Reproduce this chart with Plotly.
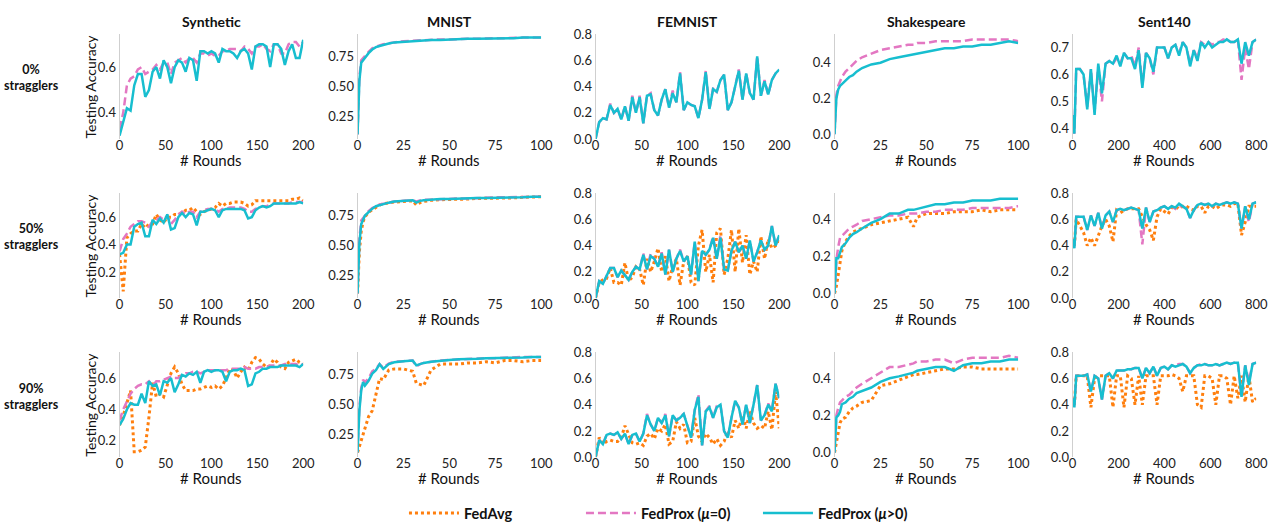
import plotly.graph_objects as go

W, H = 1286, 529
FONT = "Lato"
C_AVG, C_P0, C_P = "#ff7f0e", "#e377c2", "#17becf"

# ---------------- x grids (rounds) ----------------
R200 = list(range(0, 201, 4))
RMN = [0, 1, 2, 3, 4, 6, 8, 10, 12, 14, 17, 20, 25, 30, 32, 34, 36, 40, 45, 50,
       55, 60, 65, 70, 75, 80, 85, 90, 95, 100]
RSH = [0, 1, 2, 3, 4, 6, 8, 10, 12, 15, 20, 25, 30, 35, 40, 43, 45, 50, 55, 60,
       65, 70, 75, 80, 85, 90, 95, 100]
RSE = [0, 8] + list(range(16, 801, 16))

# ---------------- Synthetic ----------------
SYN0_PROX0 = [0.33,0.40,0.52,0.55,0.56,0.59,0.60,0.57,0.58,0.59,
              0.61,0.59,0.62,0.62,0.57,0.62,0.63,0.64,0.62,0.64,
              0.64,0.62,0.66,0.66,0.65,0.66,0.65,0.65,0.67,0.67,
              0.68,0.68,0.68,0.67,0.69,0.68,0.66,0.69,0.69,0.70,
              0.68,0.67,0.70,0.70,0.66,0.66,0.70,0.71,0.71,0.69,
              0.71]
SYN0_PROX = [0.30,0.36,0.42,0.41,0.52,0.57,0.57,0.47,0.50,0.58,
             0.60,0.55,0.63,0.60,0.53,0.60,0.63,0.62,0.58,0.64,
             0.63,0.54,0.67,0.67,0.66,0.67,0.66,0.62,0.68,0.67,
             0.67,0.66,0.64,0.67,0.68,0.66,0.59,0.69,0.70,0.70,
             0.69,0.60,0.70,0.70,0.68,0.61,0.67,0.70,0.64,0.64,
             0.72]
SYN50_AVG = [0.33,0.06,0.45,0.48,0.50,0.50,0.55,0.52,0.55,0.55,
             0.62,0.58,0.56,0.60,0.60,0.62,0.62,0.63,0.65,0.65,
             0.67,0.64,0.62,0.64,0.65,0.66,0.67,0.70,0.68,0.70,
             0.70,0.71,0.71,0.71,0.70,0.68,0.69,0.72,0.72,0.72,
             0.72,0.72,0.72,0.72,0.72,0.72,0.72,0.73,0.73,0.74,
             0.72]
SYN50_PROX0 = [0.35,0.44,0.48,0.53,0.55,0.57,0.57,0.56,0.53,0.57,
               0.58,0.60,0.58,0.61,0.55,0.58,0.62,0.64,0.62,0.64,
               0.64,0.60,0.64,0.65,0.66,0.66,0.66,0.64,0.66,0.66,
               0.67,0.67,0.67,0.67,0.66,0.64,0.64,0.66,0.67,0.68,
               0.68,0.69,0.70,0.70,0.70,0.70,0.70,0.71,0.71,0.71,
               0.71]
SYN50_PROX = [0.33,0.34,0.40,0.40,0.53,0.55,0.56,0.46,0.46,0.58,
              0.55,0.59,0.56,0.62,0.51,0.52,0.60,0.63,0.60,0.63,
              0.62,0.54,0.64,0.64,0.65,0.66,0.65,0.60,0.65,0.66,
              0.66,0.66,0.66,0.66,0.65,0.59,0.60,0.65,0.67,0.68,
              0.67,0.68,0.70,0.70,0.70,0.70,0.70,0.70,0.70,0.71,
              0.70]
SYN90_AVG = [0.30,0.36,0.44,0.52,0.13,0.13,0.14,0.16,0.35,0.57,
             0.48,0.50,0.48,0.55,0.63,0.67,0.63,0.56,0.52,0.52,
             0.52,0.53,0.53,0.54,0.55,0.54,0.55,0.53,0.55,0.60,
             0.66,0.65,0.60,0.64,0.67,0.65,0.70,0.73,0.72,0.69,
             0.67,0.68,0.72,0.70,0.67,0.66,0.70,0.71,0.72,0.70,
             0.69]
SYN90_PROX0 = [0.33,0.40,0.45,0.50,0.53,0.55,0.56,0.56,0.58,0.55,
               0.58,0.58,0.59,0.60,0.61,0.60,0.60,0.62,0.63,0.63,
               0.64,0.64,0.63,0.64,0.65,0.65,0.65,0.65,0.65,0.65,
               0.66,0.66,0.66,0.66,0.67,0.66,0.66,0.66,0.67,0.67,
               0.67,0.68,0.68,0.68,0.68,0.69,0.69,0.69,0.69,0.68,
               0.69]
SYN90_PROX = [0.30,0.34,0.40,0.44,0.43,0.43,0.50,0.44,0.58,0.55,
              0.56,0.49,0.58,0.57,0.60,0.51,0.56,0.62,0.61,0.63,
              0.62,0.64,0.57,0.64,0.65,0.64,0.65,0.65,0.64,0.58,
              0.64,0.65,0.65,0.66,0.65,0.55,0.56,0.63,0.64,0.66,
              0.66,0.67,0.67,0.67,0.68,0.68,0.68,0.68,0.68,0.67,
              0.69]

# ---------------- MNIST ----------------
MN0_PROX0 = [0.10,0.58,0.72,0.74,0.76,0.79,0.82,0.835,0.845,0.855,
             0.865,0.87,0.88,0.885,0.885,0.89,0.89,0.89,0.895,0.895,
             0.90,0.90,0.90,0.905,0.905,0.905,0.91,0.91,0.91,0.91]
MN0_PROX = [0.10,0.55,0.70,0.72,0.75,0.78,0.81,0.83,0.84,0.85,
            0.86,0.87,0.875,0.88,0.885,0.885,0.885,0.89,0.89,0.895,
            0.895,0.90,0.90,0.90,0.905,0.905,0.905,0.91,0.91,0.91]
MN50_AVG = [0.10,0.45,0.62,0.70,0.74,0.78,0.80,0.82,0.84,0.85,
            0.86,0.865,0.87,0.875,0.84,0.86,0.87,0.88,0.885,0.885,
            0.89,0.89,0.895,0.895,0.90,0.90,0.90,0.905,0.905,0.91]
MN50_PROX0 = [0.10,0.56,0.71,0.73,0.76,0.79,0.815,0.83,0.845,0.85,
              0.86,0.87,0.875,0.88,0.87,0.88,0.885,0.885,0.89,0.89,
              0.895,0.895,0.90,0.90,0.905,0.905,0.905,0.91,0.91,0.91]
MN50_PROX = [0.10,0.52,0.68,0.72,0.75,0.78,0.81,0.83,0.84,0.85,
             0.86,0.87,0.875,0.88,0.86,0.875,0.88,0.885,0.89,0.89,
             0.895,0.895,0.90,0.90,0.90,0.905,0.905,0.905,0.91,0.91]
MN90_AVG = [0.10,0.15,0.20,0.25,0.28,0.40,0.45,0.58,0.72,0.71,
            0.79,0.80,0.80,0.78,0.68,0.67,0.66,0.79,0.84,0.84,
            0.84,0.85,0.85,0.86,0.85,0.87,0.87,0.86,0.87,0.87]
MN90_PROX0 = [0.10,0.48,0.64,0.71,0.69,0.72,0.78,0.80,0.84,0.81,
              0.845,0.86,0.865,0.87,0.82,0.84,0.85,0.86,0.87,0.875,
              0.88,0.885,0.885,0.89,0.89,0.895,0.895,0.90,0.90,0.90]
MN90_PROX = [0.10,0.45,0.62,0.69,0.66,0.70,0.76,0.79,0.84,0.80,
             0.84,0.855,0.865,0.87,0.83,0.84,0.85,0.86,0.87,0.875,
             0.88,0.88,0.885,0.89,0.89,0.89,0.895,0.895,0.90,0.90]

# ---------------- FEMNIST ----------------
FE0_PROX0 = [0.00,0.13,0.16,0.15,0.27,0.20,0.23,0.15,0.25,0.14,
             0.33,0.20,0.33,0.12,0.33,0.35,0.22,0.18,0.30,0.38,
             0.24,0.37,0.28,0.51,0.22,0.28,0.26,0.25,0.16,0.30,
             0.52,0.23,0.39,0.36,0.45,0.49,0.22,0.28,0.40,0.53,
             0.30,0.50,0.35,0.30,0.63,0.33,0.45,0.34,0.45,0.50,
             0.53]
FE0_PROX = [0.00,0.13,0.16,0.15,0.26,0.20,0.23,0.15,0.25,0.14,
            0.32,0.20,0.32,0.12,0.33,0.34,0.22,0.18,0.30,0.38,
            0.24,0.35,0.28,0.50,0.22,0.28,0.26,0.25,0.16,0.30,
            0.51,0.23,0.38,0.36,0.45,0.49,0.22,0.28,0.40,0.52,
            0.30,0.50,0.35,0.30,0.63,0.33,0.44,0.34,0.45,0.50,
            0.53]
FE50_AVG = [0.00,0.12,0.14,0.15,0.23,0.12,0.12,0.10,0.27,0.13,
            0.16,0.24,0.22,0.10,0.30,0.20,0.28,0.38,0.20,0.32,
            0.13,0.24,0.30,0.10,0.28,0.32,0.12,0.10,0.40,0.52,
            0.20,0.33,0.12,0.50,0.53,0.18,0.30,0.52,0.20,0.53,
            0.27,0.48,0.18,0.28,0.20,0.47,0.30,0.45,0.38,0.40,
            0.45]
FE50_PROX0 = [0.00,0.13,0.11,0.17,0.23,0.23,0.16,0.21,0.17,0.14,
              0.20,0.24,0.22,0.34,0.22,0.34,0.30,0.24,0.35,0.18,
              0.37,0.20,0.30,0.37,0.28,0.32,0.18,0.43,0.13,0.36,
              0.33,0.37,0.47,0.30,0.48,0.22,0.21,0.36,0.43,0.35,
              0.40,0.30,0.44,0.28,0.35,0.44,0.37,0.40,0.55,0.40,
              0.48]
FE50_PROX = [0.00,0.13,0.11,0.17,0.23,0.23,0.16,0.21,0.17,0.14,
             0.20,0.24,0.22,0.33,0.22,0.32,0.30,0.24,0.34,0.18,
             0.37,0.20,0.30,0.36,0.28,0.32,0.18,0.43,0.13,0.36,
             0.33,0.37,0.46,0.30,0.46,0.22,0.21,0.36,0.43,0.35,
             0.40,0.30,0.44,0.28,0.35,0.44,0.37,0.40,0.55,0.40,
             0.48]
FE90_AVG = [0.00,0.15,0.10,0.12,0.13,0.12,0.12,0.15,0.24,0.18,
            0.11,0.10,0.11,0.09,0.16,0.18,0.14,0.22,0.20,0.25,
            0.10,0.12,0.27,0.22,0.25,0.11,0.12,0.30,0.16,0.12,
            0.18,0.15,0.10,0.14,0.09,0.12,0.20,0.15,0.28,0.22,
            0.32,0.22,0.35,0.26,0.22,0.24,0.22,0.35,0.21,0.50,
            0.22]
FE90_PROX0 = [0.00,0.13,0.10,0.17,0.18,0.17,0.19,0.14,0.18,0.10,
              0.17,0.18,0.12,0.18,0.33,0.25,0.20,0.30,0.26,0.33,
              0.16,0.32,0.28,0.31,0.33,0.24,0.15,0.36,0.48,0.09,
              0.35,0.39,0.30,0.39,0.40,0.20,0.15,0.30,0.43,0.38,
              0.25,0.40,0.26,0.40,0.55,0.28,0.32,0.41,0.35,0.56,
              0.45]
FE90_PROX = [0.00,0.13,0.10,0.17,0.18,0.17,0.19,0.14,0.18,0.10,
             0.17,0.18,0.12,0.18,0.32,0.25,0.20,0.30,0.26,0.32,
             0.16,0.32,0.28,0.30,0.33,0.24,0.15,0.36,0.46,0.09,
             0.35,0.38,0.30,0.38,0.40,0.20,0.15,0.30,0.43,0.38,
             0.25,0.40,0.26,0.40,0.55,0.28,0.32,0.40,0.35,0.56,
             0.45]

# ---------------- Shakespeare ----------------
SH0_PROX0 = [0.00,0.22,0.27,0.30,0.32,0.35,0.37,0.39,0.41,0.43,
             0.45,0.47,0.48,0.49,0.50,0.50,0.51,0.51,0.52,0.52,
             0.52,0.52,0.53,0.53,0.53,0.53,0.53,0.52]
SH0_PROX = [0.00,0.20,0.25,0.27,0.28,0.30,0.32,0.33,0.35,0.37,
            0.39,0.40,0.42,0.43,0.44,0.45,0.45,0.46,0.47,0.48,
            0.48,0.49,0.49,0.50,0.50,0.51,0.52,0.51]
SH50_AVG = [0.00,0.04,0.10,0.18,0.23,0.28,0.31,0.33,0.34,0.35,
            0.37,0.38,0.39,0.40,0.41,0.36,0.41,0.43,0.43,0.43,
            0.44,0.44,0.44,0.45,0.44,0.45,0.45,0.45]
SH50_PROX0 = [0.00,0.18,0.25,0.30,0.31,0.33,0.35,0.36,0.37,0.39,
              0.40,0.41,0.42,0.42,0.43,0.43,0.43,0.44,0.44,0.45,
              0.45,0.45,0.46,0.46,0.46,0.46,0.46,0.47]
SH50_PROX = [0.00,0.19,0.19,0.22,0.25,0.27,0.30,0.32,0.33,0.35,
             0.38,0.40,0.43,0.43,0.45,0.45,0.455,0.47,0.48,0.48,
             0.49,0.49,0.50,0.50,0.50,0.51,0.51,0.51]
SH90_AVG = [0.00,0.05,0.12,0.16,0.18,0.19,0.22,0.24,0.25,0.27,
            0.28,0.36,0.37,0.39,0.41,0.42,0.42,0.43,0.44,0.45,
            0.45,0.46,0.46,0.45,0.45,0.45,0.45,0.45]
SH90_PROX0 = [0.00,0.20,0.24,0.27,0.28,0.30,0.31,0.33,0.35,0.37,
              0.40,0.43,0.46,0.46,0.47,0.48,0.49,0.49,0.50,0.50,
              0.48,0.50,0.51,0.51,0.51,0.51,0.52,0.51]
SH90_PROX = [0.00,0.19,0.20,0.22,0.26,0.27,0.29,0.30,0.32,0.33,
             0.35,0.38,0.40,0.41,0.42,0.43,0.44,0.45,0.46,0.46,
             0.44,0.47,0.48,0.48,0.49,0.49,0.50,0.50]

# ---------------- Sent140 ----------------
SE0_PROX0 = [0.45,0.38,0.62,0.62,0.60,0.48,0.62,0.46,0.63,0.50,
             0.64,0.65,0.64,0.66,0.64,0.68,0.66,0.67,0.63,0.70,
             0.56,0.68,0.66,0.60,0.70,0.70,0.70,0.66,0.70,0.71,
             0.68,0.72,0.70,0.64,0.69,0.66,0.72,0.71,0.72,0.71,
             0.72,0.72,0.73,0.73,0.72,0.72,0.73,0.58,0.70,0.62,
             0.72,0.73]
SE0_PROX = [0.45,0.38,0.62,0.62,0.60,0.47,0.62,0.45,0.64,0.53,
            0.64,0.65,0.64,0.67,0.63,0.68,0.66,0.66,0.62,0.69,
            0.55,0.68,0.66,0.61,0.70,0.70,0.70,0.66,0.70,0.71,
            0.67,0.72,0.70,0.63,0.69,0.65,0.72,0.70,0.72,0.70,
            0.71,0.72,0.72,0.73,0.72,0.72,0.73,0.64,0.72,0.67,
            0.72,0.73]
SE50_AVG = [0.45,0.40,0.60,0.55,0.50,0.40,0.46,0.40,0.48,0.55,
            0.60,0.55,0.43,0.67,0.65,0.67,0.68,0.68,0.68,0.68,
            0.62,0.56,0.52,0.44,0.62,0.68,0.66,0.64,0.69,0.70,
            0.68,0.70,0.70,0.68,0.67,0.70,0.70,0.65,0.70,0.70,
            0.68,0.70,0.71,0.71,0.70,0.72,0.72,0.48,0.58,0.70,
            0.70,0.70]
SE50_PROX0 = [0.45,0.38,0.62,0.62,0.62,0.52,0.63,0.55,0.65,0.53,
              0.63,0.66,0.58,0.67,0.68,0.67,0.68,0.69,0.68,0.67,
              0.41,0.69,0.58,0.66,0.67,0.69,0.70,0.68,0.70,0.68,
              0.70,0.70,0.68,0.61,0.67,0.71,0.72,0.71,0.72,0.70,
              0.72,0.71,0.72,0.73,0.72,0.73,0.72,0.53,0.70,0.58,
              0.72,0.73]
SE50_PROX = [0.45,0.38,0.62,0.62,0.62,0.52,0.63,0.55,0.65,0.53,
             0.63,0.66,0.58,0.67,0.68,0.67,0.68,0.69,0.68,0.67,
             0.53,0.69,0.58,0.66,0.67,0.69,0.70,0.68,0.70,0.69,
             0.72,0.70,0.68,0.61,0.67,0.71,0.72,0.71,0.72,0.70,
             0.72,0.71,0.72,0.73,0.72,0.73,0.72,0.53,0.70,0.60,
             0.72,0.73]
SE90_AVG = [0.45,0.40,0.62,0.62,0.62,0.62,0.38,0.60,0.62,0.62,
            0.62,0.62,0.38,0.62,0.62,0.38,0.62,0.60,0.40,0.62,
            0.40,0.62,0.62,0.62,0.40,0.62,0.62,0.62,0.63,0.62,
            0.60,0.50,0.62,0.62,0.62,0.40,0.38,0.62,0.62,0.60,
            0.40,0.62,0.62,0.60,0.40,0.62,0.45,0.62,0.42,0.62,
            0.42,0.45]
SE90_PROX0 = [0.45,0.38,0.62,0.62,0.62,0.63,0.50,0.62,0.60,0.44,
              0.62,0.64,0.60,0.66,0.66,0.66,0.67,0.67,0.68,0.68,
              0.60,0.68,0.64,0.69,0.62,0.68,0.69,0.67,0.70,0.70,
              0.71,0.71,0.69,0.64,0.68,0.70,0.71,0.71,0.70,0.70,
              0.71,0.70,0.71,0.72,0.71,0.72,0.72,0.46,0.70,0.58,
              0.71,0.72]
SE90_PROX = [0.45,0.38,0.62,0.62,0.62,0.63,0.50,0.62,0.60,0.44,
             0.62,0.64,0.60,0.66,0.66,0.66,0.67,0.67,0.68,0.68,
             0.60,0.68,0.64,0.69,0.62,0.68,0.69,0.67,0.70,0.69,
             0.70,0.71,0.69,0.64,0.68,0.70,0.70,0.71,0.70,0.70,
             0.71,0.70,0.71,0.72,0.71,0.72,0.72,0.46,0.70,0.55,
             0.71,0.72]

DATASETS = ["Synthetic", "MNIST", "FEMNIST", "Shakespeare", "Sent140"]
ROW_LABELS = ["0%", "50%", "90%"]
XGRID = [R200, RMN, R200, RSH, RSE]
XMAX = [200, 100, 200, 100, 800]
XTICKS = [[0, 50, 100, 150, 200], [0, 25, 50, 75, 100], [0, 50, 100, 150, 200],
          [0, 25, 50, 75, 100], [0, 200, 400, 600, 800]]

SERIES = [
    [(None, SYN0_PROX0, SYN0_PROX), (None, MN0_PROX0, MN0_PROX), (None, FE0_PROX0, FE0_PROX),
     (None, SH0_PROX0, SH0_PROX), (None, SE0_PROX0, SE0_PROX)],
    [(SYN50_AVG, SYN50_PROX0, SYN50_PROX), (MN50_AVG, MN50_PROX0, MN50_PROX),
     (FE50_AVG, FE50_PROX0, FE50_PROX), (SH50_AVG, SH50_PROX0, SH50_PROX),
     (SE50_AVG, SE50_PROX0, SE50_PROX)],
    [(SYN90_AVG, SYN90_PROX0, SYN90_PROX), (MN90_AVG, MN90_PROX0, MN90_PROX),
     (FE90_AVG, FE90_PROX0, FE90_PROX), (SH90_AVG, SH90_PROX0, SH90_PROX),
     (SE90_AVG, SE90_PROX0, SE90_PROX)],
]

T_FEM = ([0, 0.2, 0.4, 0.6, 0.8], ["0.0", "0.2", "0.4", "0.6", "0.8"])
T_MN = ([0.25, 0.5, 0.75], ["0.25", "0.50", "0.75"])
T_SH = ([0, 0.2, 0.4], ["0.0", "0.2", "0.4"])
YAX = [
    [([0.285, 0.745], ([0.4, 0.6], ["0.4", "0.6"])), ([0.06, 0.94], T_MN), ([0, 0.8], T_FEM),
     ([-0.027, 0.56], T_SH), ([0.36, 0.75], ([0.4, 0.5, 0.6, 0.7], ["0.4", "0.5", "0.6", "0.7"]))],
    [([0.01, 0.775], ([0.2, 0.4, 0.6], ["0.2", "0.4", "0.6"])), ([0.06, 0.94], T_MN), ([0, 0.8], T_FEM),
     ([-0.025, 0.54], T_SH), ([0, 0.8], T_FEM)],
    [([0.095, 0.765], ([0.2, 0.4, 0.6], ["0.2", "0.4", "0.6"])), ([0.06, 0.94], T_MN), ([0, 0.8], T_FEM),
     ([-0.025, 0.54], T_SH), ([0, 0.8], T_FEM)],
]

COL_LEFT = [117, 358, 599, 841, 1082]
PW = 186
ROW_TOP = [27, 192, 357]
PH = 109

fig = go.Figure()
layout = dict(width=W, height=H, autosize=False, margin=dict(l=0, r=0, t=0, b=0),
              paper_bgcolor="white", plot_bgcolor="white",
              font=dict(family=FONT, color="#1a1a1a"))
annotations = []


def ann(text, px, py, size, angle=0):
    annotations.append(dict(text=text, x=px / W, y=1 - py / H, xref="paper", yref="paper",
                            xanchor="center", yanchor="middle", showarrow=False, textangle=angle,
                            font=dict(family=FONT, size=size, color="#111111")))


NAMES = ["<b>FedAvg</b>", "<b>FedProx (<i>μ</i>=0)</b>", "<b>FedProx (<i>μ</i>>0)</b>"]
STYLES = [dict(color=C_AVG, width=3, dash="3px,3px"),
          dict(color=C_P0, width=2.5, dash="8px,4px"),
          dict(color=C_P, width=2.5)]

for r in range(3):
    for c in range(5):
        k = r * 5 + c + 1
        xa = "x" if k == 1 else f"x{k}"
        ya = "y" if k == 1 else f"y{k}"
        for s, ys in enumerate(SERIES[r][c]):
            if ys is None:
                continue
            fig.add_trace(go.Scatter(x=XGRID[c], y=ys, mode="lines", name=NAMES[s],
                                     line=STYLES[s], xaxis=xa, yaxis=ya,
                                     legendgroup=str(s), showlegend=(r == 1 and c == 0),
                                     hoverinfo="skip"))
        x0 = COL_LEFT[c] / W
        x1 = (COL_LEFT[c] + PW) / W
        y1 = 1 - ROW_TOP[r] / H
        y0 = 1 - (ROW_TOP[r] + PH) / H
        yr, (tv, tt) = YAX[r][c]
        layout["xaxis" if k == 1 else f"xaxis{k}"] = dict(
            domain=[x0, x1], anchor=ya, range=[0, XMAX[c]], showline=False, showgrid=False,
            zeroline=False, ticks="", tickvals=XTICKS[c], ticklabelstandoff=-3,
            tickfont=dict(family=FONT, size=13, color="#222222"))
        layout["yaxis" if k == 1 else f"yaxis{k}"] = dict(
            domain=[y0, y1], anchor=xa, range=yr, showline=True, linecolor="#cfcfcf",
            linewidth=1, showgrid=False, zeroline=False, ticks="", tickvals=tv, ticktext=tt,
            tickfont=dict(family=FONT, size=13, color="#222222"))
        ann("# Rounds", COL_LEFT[c] + PW / 2, ROW_TOP[r] + PH + 22, 15)
    ann("Testing Accuracy", 88, ROW_TOP[r] + PH / 2, 14, angle=-90)
    ann(f"<b>{ROW_LABELS[r]}</b><br><b>stragglers</b>", 28, ROW_TOP[r] + PH / 2 - 9, 12.5)

for c in range(5):
    ann(f"<b>{DATASETS[c]}</b>", COL_LEFT[c] + PW / 2, 14, 14)

layout["annotations"] = annotations
layout["legend"] = dict(orientation="h", x=405 / W, xanchor="left", y=(H - 524) / H,
                        yanchor="middle", font=dict(family=FONT, size=14.5, color="#111111"),
                        entrywidth=112, entrywidthmode="pixels", itemwidth=50,
                        bgcolor="rgba(0,0,0,0)", traceorder="normal")
layout["showlegend"] = True
fig.update_layout(**layout)
fig.write_html("out.html")
